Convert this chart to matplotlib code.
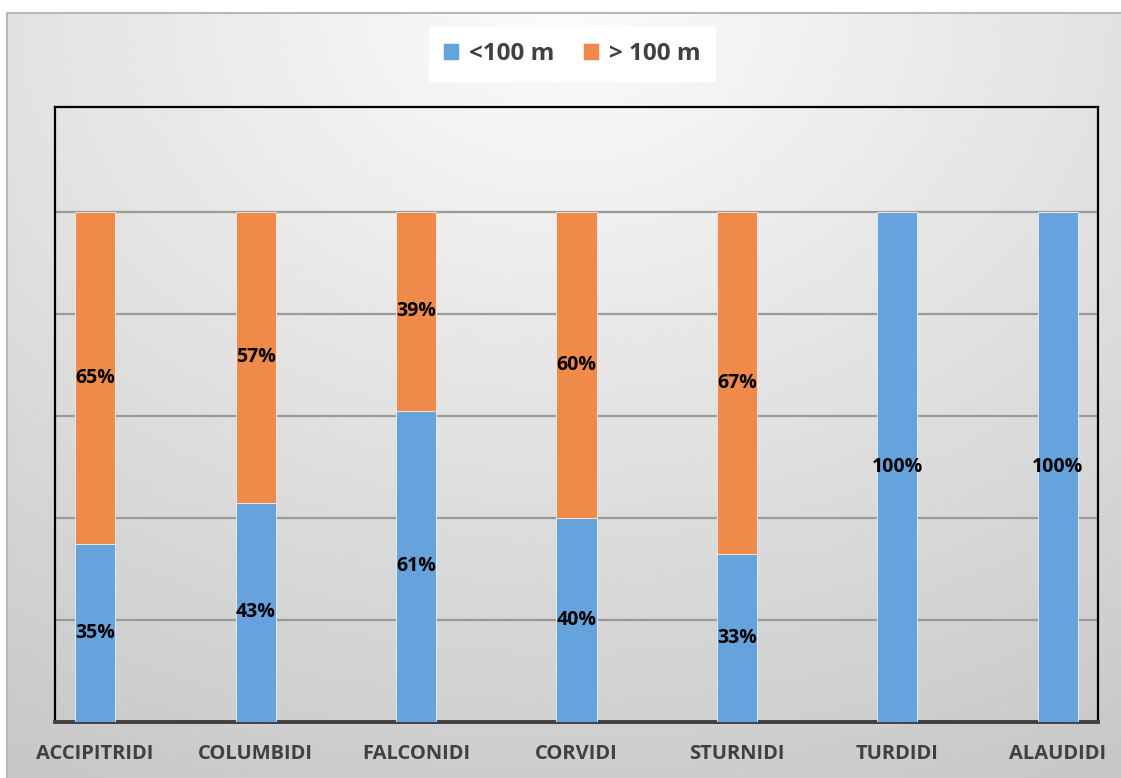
import numpy as np
import matplotlib.pyplot as plt
from matplotlib.patches import Rectangle

plt.rcParams['font.family'] = 'Open Sans'
plt.rcParams['font.weight'] = 'bold'

# share of sightings by distance class
families = ['ACCIPITRIDI', 'COLUMBIDI', 'FALCONIDI', 'CORVIDI', 'STURNIDI', 'TURDIDI', 'ALAUDIDI']
near = [0.35, 0.43, 0.61, 0.40, 0.33, 1.00, 1.00]
far = [0.65, 0.57, 0.39, 0.60, 0.67, 0.00, 0.00]
series_names = ['<100 m', '> 100 m']

blue = '#66a2db'
orange = '#ef8a4a'

W, H = 1121, 778
fig = plt.figure(figsize=(W / 100, H / 100), dpi=100)
fig.patch.set_facecolor('white')

# gray gradient background of the chart area
bg = fig.add_axes([7 / W, 0, 1 - 7 / W, 1 - 13 / H], zorder=0)
yy, xx = np.mgrid[0:1:300j, 0:1:400j]
dist = np.sqrt(((xx - 0.5) * 1.1) ** 2 + (yy * 1.0) ** 2)
shade = 0.985 - 0.2 * np.clip(dist, 0, 1.1) / 1.1
bg.imshow(shade, cmap='gray', vmin=0, vmax=1, aspect='auto', extent=[0, 1, 0, 1], origin='upper')
bg.set_axis_off()
fig.patches.append(Rectangle((7 / W, -0.01), 1.1, 1 - 13 / H + 0.01, transform=fig.transFigure,
                             fill=False, edgecolor='#b8b8b8', linewidth=1.5, zorder=1))

ax = fig.add_axes([55 / W, (H - 722) / H, (1098 - 55) / W, (722 - 107) / H], zorder=2)
ax.set_facecolor('none')

x = np.arange(len(families))
width = 0.25
b1 = ax.bar(x, near, width, color=blue, label=series_names[0], zorder=3,
            edgecolor='#e8f0f8', linewidth=0.6)
b2 = ax.bar(x, far, width, bottom=near, color=orange, label=series_names[1], zorder=3,
            edgecolor='#f8ece4', linewidth=0.6)

for bars, vals, base in [(b1, near, [0] * len(near)), (b2, far, near)]:
    for rect, v, b in zip(bars, vals, base):
        if v <= 0:
            continue
        ax.text(rect.get_x() + rect.get_width() / 2, b + v / 2, f'{v * 100:.0f}%',
                ha='center', va='center', fontsize=14, fontweight='bold', color='black', zorder=4)

ax.set_xlim(-0.25, 6.25)
ax.set_ylim(0, 1.206)
ax.set_yticks([0.2, 0.4, 0.6, 0.8, 1.0])
ax.yaxis.grid(True, color='#9a9a9a', linewidth=1.6, zorder=1)
ax.tick_params(axis='y', left=False, labelleft=False)
ax.tick_params(axis='x', bottom=False, pad=12)
ax.set_xticks(x)
ax.set_xticklabels(families, fontsize=14.5, fontweight='bold', color='#404040')

for side in ['left', 'top', 'right']:
    ax.spines[side].set_color('black')
    ax.spines[side].set_linewidth(1.6)
ax.spines['bottom'].set_color('#404040')
ax.spines['bottom'].set_linewidth(2.8)

leg = fig.legend(handles=[b1, b2], labels=series_names, loc='center',
                 bbox_to_anchor=(572 / W, 1 - 54 / H), ncol=2, frameon=True,
                 fancybox=False, framealpha=1, edgecolor='white', facecolor='white',
                 prop={'family': 'Open Sans', 'size': 17.5, 'weight': 'bold'},
                 handlelength=0.65, handleheight=0.65,
                 handletextpad=0.4, columnspacing=1.2, borderpad=0.6)
for t in leg.get_texts():
    t.set_color('#404040')

fig.savefig('out.png', dpi=100)
